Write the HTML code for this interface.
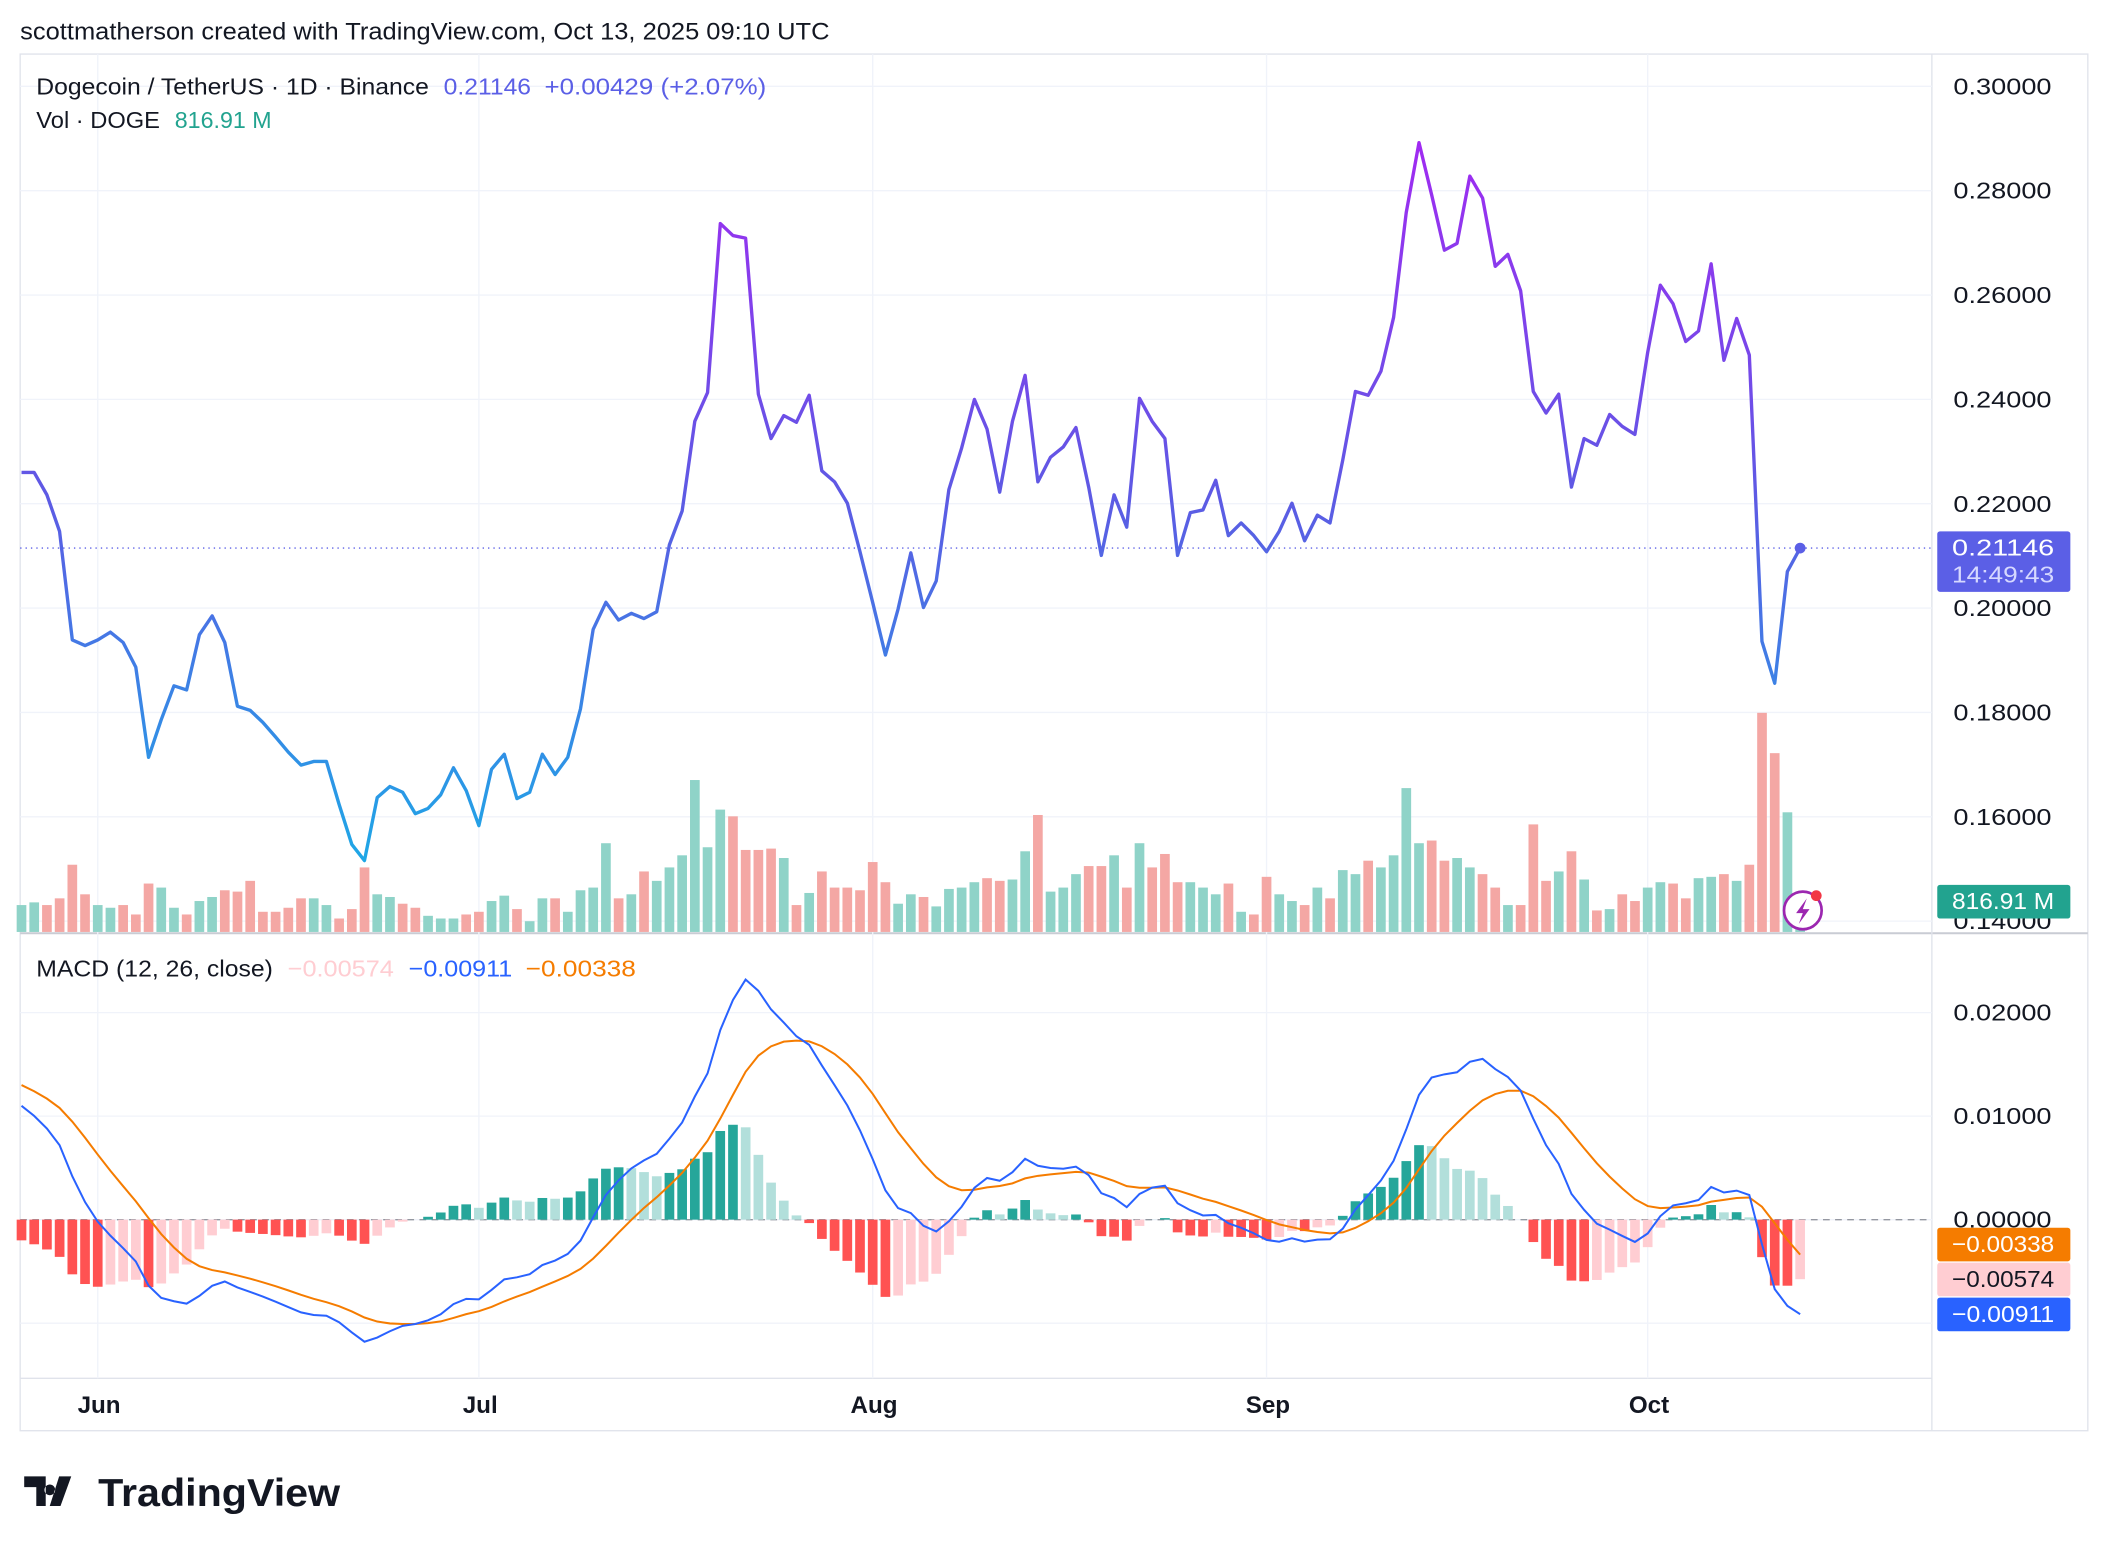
<!DOCTYPE html>
<html><head><meta charset="utf-8"><style>
html,body{margin:0;padding:0;background:#fff;}
svg{display:block;font-family:"Liberation Sans",sans-serif;}
</style></head><body>
<svg id="c" width="2108" height="1552" viewBox="0 0 1568 1154" xmlns="http://www.w3.org/2000/svg">
<defs>
<linearGradient id="pg" gradientUnits="userSpaceOnUse" x1="0" y1="100" x2="0" y2="640">
<stop offset="0" stop-color="#a229f2"/><stop offset="0.5" stop-color="#5d5ae4"/><stop offset="1" stop-color="#1ea7e6"/>
</linearGradient>
</defs>
<text x="15" y="29" font-size="18" fill="#131722" textLength="602" lengthAdjust="spacingAndGlyphs">scottmatherson created with TradingView.com, Oct 13, 2025 09:10 UTC</text>
<g id="grid"></g>
<g id="vol"></g>
<g id="hist"></g>
<g id="lines"></g>
<g id="axes"></g>
<g font-size="17.5">
<text x="27" y="70" fill="#131722" textLength="292" lengthAdjust="spacingAndGlyphs">Dogecoin / TetherUS · 1D · Binance</text>
<text x="330" y="70" fill="#5b5fe6" textLength="65" lengthAdjust="spacingAndGlyphs">0.21146</text>
<text x="405" y="70" fill="#5b5fe6" textLength="165" lengthAdjust="spacingAndGlyphs">+0.00429 (+2.07%)</text>
</g>
<g font-size="17.5">
<text x="27" y="95" fill="#131722" textLength="92" lengthAdjust="spacingAndGlyphs">Vol · DOGE</text>
<text x="130" y="95" fill="#22a38f" textLength="72" lengthAdjust="spacingAndGlyphs">816.91 M</text>
</g>
<g font-size="17.5">
<text x="27" y="726" fill="#131722" textLength="176" lengthAdjust="spacingAndGlyphs">MACD (12, 26, close)</text>
<text x="214" y="726" fill="#ffcdd2" textLength="79" lengthAdjust="spacingAndGlyphs">−0.00574</text>
<text x="304" y="726" fill="#2962ff" textLength="77" lengthAdjust="spacingAndGlyphs">−0.00911</text>
<text x="391" y="726" fill="#f57c00" textLength="82" lengthAdjust="spacingAndGlyphs">−0.00338</text>
</g>
<g>
<path d="M18 1098h16v22h-7v-14h-9z M37 1104a4 4 0 1 0 0.1 0z M44 1098h9l-8 22h-8z" fill="#131722"/>
<text x="73" y="1120" font-size="29" font-weight="bold" fill="#131722" textLength="180" lengthAdjust="spacingAndGlyphs">TradingView</text>
</g>
</svg>
<script>
const prices=[0.2260,0.2260,0.2217,0.2147,0.1939,0.1928,0.1939,0.1954,0.1934,0.1887,0.1714,0.1786,0.1851,0.1843,0.1949,0.1985,0.1934,0.1812,0.1804,0.1781,0.1753,0.1724,0.1699,0.1706,0.1706,0.1624,0.1547,0.1516,0.1637,0.1658,0.1647,0.1606,0.1616,0.1642,0.1694,0.1650,0.1583,0.1691,0.1720,0.1635,0.1647,0.1720,0.1681,0.1714,0.1807,0.1959,0.2011,0.1977,0.1990,0.1980,0.1993,0.2121,0.2186,0.2358,0.2413,0.2737,0.2714,0.2709,0.2410,0.2325,0.2369,0.2356,0.2408,0.2263,0.2242,0.2201,0.2108,0.2011,0.1910,0.1998,0.2106,0.2001,0.2052,0.2227,0.2307,0.2400,0.2343,0.2222,0.2358,0.2446,0.2242,0.2289,0.2309,0.2346,0.2232,0.2101,0.2217,0.2155,0.2402,0.2358,0.2325,0.2101,0.2183,0.2188,0.2245,0.2139,0.2163,0.2139,0.2108,0.2147,0.2201,0.2129,0.2178,0.2163,0.2284,0.2415,0.2408,0.2454,0.2557,0.2758,0.2892,0.2792,0.2686,0.2699,0.2828,0.2786,0.2655,0.2678,0.2608,0.2415,0.2374,0.2410,0.2232,0.2325,0.2312,0.2371,0.2348,0.2333,0.2490,0.2619,0.2583,0.2511,0.2531,0.2660,0.2475,0.2555,0.2485,0.1936,0.1856,0.2070,0.2115];
const volumeTops=[673,671,673,668,643,665,673,675,673,680,657,660,675,680,670,667,662,663,655,678,678,675,668,668,673,683,676,645,665,667,672,675,681,683,683,680,678,670,666,676,685,668,668,678,662,660,627,668,665,648,655,645,636,580,630,602,607,632,632,631,638,673,664,648,660,660,662,641,656,672,665,667,674,661,660,656,653,655,654,633,606,663,660,650,644,644,636,660,627,645,635,656,656,660,665,657,678,680,652,665,670,673,660,668,647,650,640,645,636,586,627,625,640,638,645,650,660,673,673,613,655,648,633,654,677,676,665,670,660,656,657,668,653,652,650,655,643,530,560,604,688];
const volumes=volumeTops.map(t=>(693-t)*160); // millions
const priceTicks=["0.30000","0.28000","0.26000","0.24000","0.22000","0.20000","0.18000","0.16000","0.14000"];
const macdTicks=["0.02000","0.01000","0.00000"];
const months=["Jun","Jul","Aug","Sep","Oct"];
const monthDay=[6,36,67,98,128];

const NS="http://www.w3.org/2000/svg";
function el(tag,attrs,parent,txt){const e=document.createElementNS(NS,tag);for(const k in attrs)e.setAttribute(k,attrs[k]);if(txt!=null)e.textContent=txt;parent.appendChild(e);return e;}
const X=i=>16+i*9.45;
const PY=v=>64+(0.30-v)*3881;
const VY=v=>693-v/160;
const MY=v=>907-v*7700;
const G=document.getElementById('grid'),A=document.getElementById('axes'),V=document.getElementById('vol'),H=document.getElementById('hist'),L=document.getElementById('lines');

let r=el('rect',{x:15,y:40,width:1538,height:1024,fill:'none',stroke:'#e0e3eb'},G);


el('line',{x1:15,y1:694,x2:1553,y2:694,stroke:'#c9ccd4','stroke-width':1.5},G);
el('line',{x1:15,y1:1025,x2:1437,y2:1025,stroke:'#e0e3eb'},G);
el('line',{x1:1437,y1:40,x2:1437,y2:1064,stroke:'#e0e3eb'},G);
priceTicks.forEach(t=>{const y=PY(+t);
 if(y<690) el('line',{x1:15,y1:y,x2:1437,y2:y,stroke:'#f0f3fa'},G);
 const tx=el('text',{x:1453,y:y+6,'font-size':17.5,fill:'#131722',textLength:73,lengthAdjust:'spacingAndGlyphs'},A,t);
 
 
});
[0.02,0.01,0,-0.01].forEach(v=>el('line',{x1:15,y1:MY(v),x2:1437,y2:MY(v),stroke:'#f0f3fa'},G));
macdTicks.forEach(t=>{const tx=el('text',{x:1453,y:MY(+t)+6,'font-size':17.5,fill:'#131722',textLength:73,lengthAdjust:'spacingAndGlyphs'},A,t);
 
 });
months.forEach((m,k)=>{const x=X(monthDay[k]);
 el('line',{x1:x,y1:40,x2:x,y2:1025,stroke:'#f0f3fa'},G);
 const tx=el('text',{x:x+1,y:1051,'font-size':18,'font-weight':'bold','text-anchor':'middle',fill:'#131722'},A,m);
 
 });
el('line',{x1:15,y1:907,x2:1437,y2:907,stroke:'#9598a1','stroke-dasharray':'5,4'},G);

volumes.forEach((v,i)=>{const up=i===0||prices[i]>=prices[i-1];const y=VY(v);
 const b=el('rect',{x:X(i)-3.6,y:y,width:7.2,height:693-y,fill:up?'#8fd3c8':'#f4a7a4'},V);
 
 });

let e12=0.2280,e26=0.2170,sig=0.0130;const a12=2/13,a26=2/27,a9=2/10;
const macd=[],signal=[];
prices.forEach((p,i)=>{if(i>0){e12+=a12*(p-e12);e26+=a26*(p-e26);}const m=e12-e26;if(i>0)sig+=a9*(m-sig);macd.push(m);signal.push(sig);});
const hist=macd.map((m,i)=>m-signal[i]);
hist.forEach((h,i)=>{const prev=i>0?hist[i-1]:h+0.001;let c;
 if(h>=0)c=h>=prev?'#26a69a':'#b2dfdb';else c=h<prev?'#ff5252':'#ffcdd2';
 const y0=MY(0),y1=MY(h);
 const b=el('rect',{x:X(i)-3.6,y:Math.min(y0,y1),width:7.2,height:Math.abs(y1-y0),fill:c},H);
 
 });
const pathOf=(arr,f)=>arr.map((v,i)=>(i?'L':'M')+X(i).toFixed(1)+' '+f(v).toFixed(1)).join('');
let p=el('path',{d:pathOf(signal,MY),fill:'none',stroke:'#f57c00','stroke-width':1.5},L);


p=el('path',{d:pathOf(macd,MY),fill:'none',stroke:'#2962ff','stroke-width':1.5},L);



const last=prices[prices.length-1];
el('line',{x1:15,y1:PY(last),x2:1437,y2:PY(last),stroke:'#5b5fe6','stroke-dasharray':'1,3'},L);
p=el('path',{d:pathOf(prices,PY),fill:'none',stroke:'url(#pg)','stroke-width':2.5,'stroke-linejoin':'round'},L);


el('circle',{cx:X(prices.length-1),cy:PY(last),r:4,fill:'#5b5fe6'},L);
let lo=el('g',{},L);


el('circle',{cx:1341,cy:677,r:14,fill:'#fff',stroke:'#9c27b0','stroke-width':2},lo);
el('path',{d:'M1344 668l-8 11h5l-3 8 8-11h-5z',fill:'#9c27b0'},lo);
el('circle',{cx:1351,cy:666,r:4,fill:'#f23645'},lo);

function lab(y,h,fill,tc,lines,name){const g=el('g',{},A);
 
 
 el('rect',{x:1441,y:y,width:99,height:h,rx:2,fill:fill},g);
 lines.forEach((t,k)=>el('text',{x:1490,y:y+18+k*20,'font-size':17.5,'text-anchor':'middle',fill:tc[k]||tc[0],textLength:76,lengthAdjust:'spacingAndGlyphs'},g,t));}
lab(395,45,'#5b5fe6',['#fff','#d6d8ff'],['0.21146','14:49:43'],'last-price-label');
lab(658,25,'#22a38f',['#fff'],['816.91 M'],'volume-label');
lab(913,25,'#f57c00',['#fff'],['−0.00338'],'signal-value-label');
lab(939,25,'#ffcdd2',['#131722'],['−0.00574'],'histogram-value-label');
lab(965,25,'#2962ff',['#fff'],['−0.00911'],'macd-value-label');
</script>
</body></html>
